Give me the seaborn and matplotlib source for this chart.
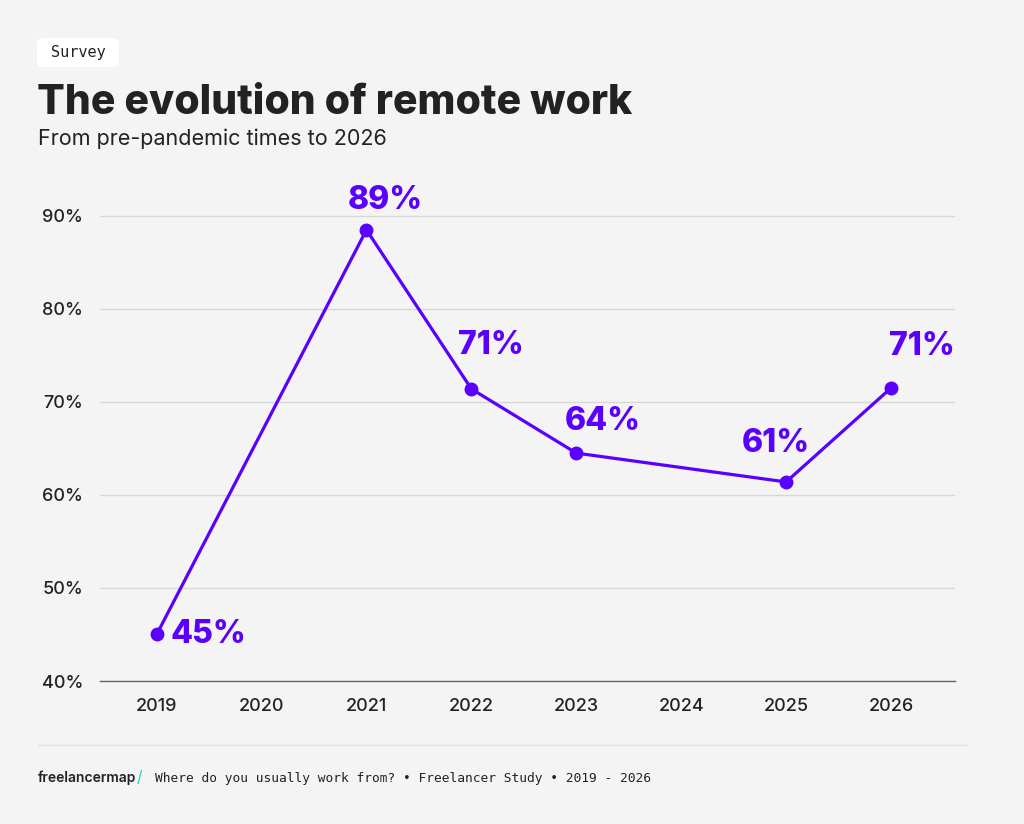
import numpy as np
import pandas as pd
import seaborn as sns
import matplotlib
matplotlib.use('Agg')
import matplotlib.pyplot as plt
from matplotlib.patches import FancyBboxPatch

sns.set_theme(style="white")
plt.rcParams['font.family'] = ['Inter', 'DejaVu Sans']

# data
years = [2019, 2021, 2022, 2023, 2025, 2026]
share = [45, 88.5, 71.4, 64.5, 61.4, 71.5]
labels = ['45%', '89%', '71%', '64%', '61%', '71%']
all_years = [2019, 2020, 2021, 2022, 2023, 2024, 2025, 2026]
y_ticks = [40, 50, 60, 70, 80, 90]

# label offsets in pixels (dx, dy) - styling only
label_offsets = [(52, 0), (19, 29), (20, 43), (26, 32), (-10, 38), (31, 41)]

bg = '#f4f4f4'
purple = '#5a00ff'
dark = '#222222'

W, H = 1024, 824
fig = plt.figure(figsize=(W / 100, H / 100), dpi=100, facecolor=bg)
ax = fig.add_axes([100 / W, 1 - 681 / H, 855 / W, (681 - 188) / H])
ax.set_facecolor(bg)

df = pd.DataFrame({'year': years, 'share': share})
sns.lineplot(x='year', y='share', data=df, ax=ax, color=purple, linewidth=2.3,
             marker='o', markersize=10, markeredgewidth=0, zorder=3)

for x, y, lab, (dx, dy) in zip(years, share, labels, label_offsets):
    ax.annotate(lab, (x, y), xytext=(dx, dy), textcoords='offset pixels',
                ha='center', va='center', fontsize=23, fontweight='heavy',
                color=purple)

ax.set_xlim(2018.46, 2026.61)
ax.set_ylim(40, 93)
ax.set_xticks(all_years)
ax.set_xticklabels([str(y) for y in all_years])
ax.set_yticks(y_ticks)
ax.set_yticklabels([f'{v}%' for v in y_ticks])
ax.grid(axis='y', color='#d8d8d8', linewidth=1)
ax.grid(axis='x', visible=False)
ax.tick_params(axis='both', length=0, labelsize=13, colors=dark)
for lab in ax.get_xticklabels() + ax.get_yticklabels():
    lab.set_fontweight('medium')
ax.tick_params(axis='x', pad=12)
ax.tick_params(axis='y', pad=12)
ax.set_xlabel('')
ax.set_ylabel('')
for s in ['top', 'right', 'left']:
    ax.spines[s].set_visible(False)
ax.spines['bottom'].set_color('#666666')
ax.spines['bottom'].set_linewidth(1)
ax.spines['bottom'].set_zorder(2.5)

# header
box = FancyBboxPatch((37 / W, 1 - 67 / H), 82 / W, 29 / H,
                     boxstyle='round,pad=0,rounding_size=0.006',
                     transform=fig.transFigure, facecolor='white',
                     edgecolor='none')
fig.patches.append(box)
fig.text(78 / W, 1 - 53 / H, 'Survey', ha='center', va='center',
         fontsize=11, family='DejaVu Sans Mono', color=dark)
fig.text(37 / W, 1 - 114 / H, 'The evolution of remote work', ha='left',
         va='baseline', fontsize=29.5, fontweight='heavy', color=dark)
fig.text(38 / W, 1 - 145 / H, 'From pre-pandemic times to 2026', ha='left',
         va='baseline', fontsize=15.5, color=dark)

# footer
fig.add_artist(plt.Line2D([38 / W, 968 / W], [1 - 745 / H, 1 - 745 / H],
                          transform=fig.transFigure, color='#e4e4e4',
                          linewidth=1))
fig.text(38 / W, 1 - 782 / H, 'freelancermap', ha='left', va='baseline',
         fontsize=10, fontweight='semibold', color=dark)
fig.text(137 / W, 1 - 782 / H, '/', ha='left', va='baseline',
         fontsize=11, color='#2ad1b5')
fig.text(155 / W, 1 - 782 / H,
         'Where do you usually work from? \u2022 Freelancer Study \u2022 2019 - 2026',
         ha='left', va='baseline', fontsize=9.3, family='DejaVu Sans Mono',
         color=dark)

fig.savefig('out.png', dpi=100, facecolor=bg)
